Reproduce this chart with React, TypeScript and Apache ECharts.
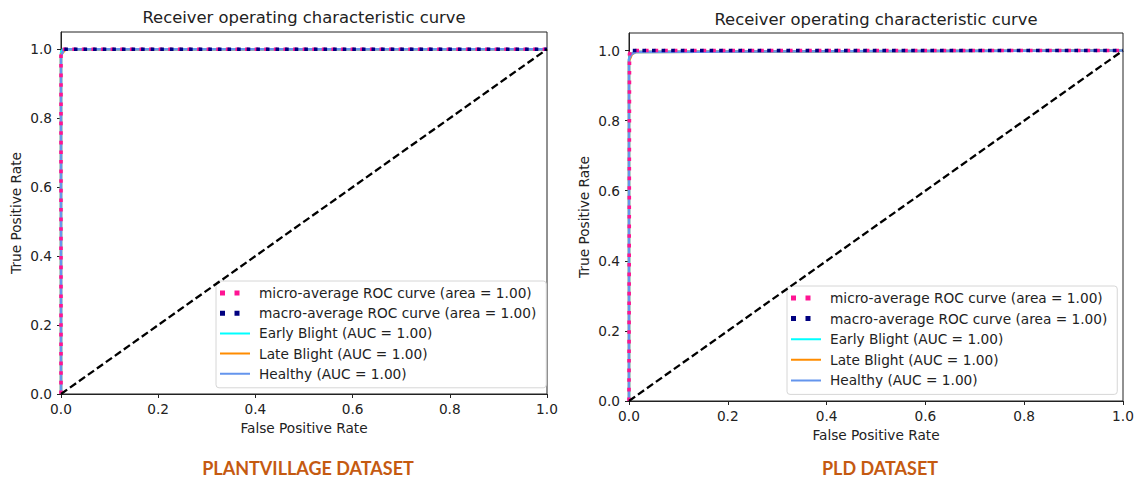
import React, { useEffect, useRef } from "react";
import * as echarts from "echarts";

// ---- data ----
const xTicks = [0, 0.2, 0.4, 0.6, 0.8, 1.0];
const yTicks = [0, 0.2, 0.4, 0.6, 0.8, 1.0];
const xMax = 1.0;
const yMax = 1.05;

const chartTitles = ["Receiver operating characteristic curve", "Receiver operating characteristic curve"];
const datasetLabels = ["PLANTVILLAGE DATASET", "PLD DATASET"];

const curveLabels = ["micro-average ROC curve", "macro-average ROC curve", "Early Blight", "Late Blight", "Healthy"];
const leftAreas = [1.0, 1.0, 1.0, 1.0, 1.0];
const rightAreas = [1.0, 1.0, 1.0, 1.0, 1.0];

// [false positive rate, true positive rate]
const leftMicro = [[0, 0], [0, 0.99], [0.002, 1.0], [1, 1.0]];
const leftMacro = [[0, 0.995], [0.001, 1.0], [1, 1.0]];
const leftEarly = [[0, 0], [0, 0.99], [0.004, 1.0], [1, 1.0]];
const leftLate = [[0, 0], [0, 0.985], [0.01, 1.0], [1, 1.0]];
const leftHealthy = [[0, 0], [0, 0.98], [0.006, 1.0], [1, 1.0]];

const rightMicro = [[0, 0], [0.001, 0.0], [0.001, 0.99], [0.004, 1.0], [1, 1.0]];
const rightMacro = [[0, 0.995], [0.003, 1.0], [1, 1.0]];
const rightEarly = [[0, 0], [0, 0.975], [0.004, 0.99], [0.012, 0.996], [1, 1.0]];
const rightLate = [[0, 0], [0, 0.97], [0.006, 0.99], [0.014, 0.996], [1, 1.0]];
const rightHealthy = [[0, 0], [0, 0.975], [0.005, 0.99], [0.014, 0.996], [1, 1.0]];

const chance = [[0, 0], [1, 1]];

const colors = ["#ff1493", "#000080", "#00ffff", "#ff8c00", "#6495ed"];

function names(areas: number[]) {
  return curveLabels.map((l, i) =>
    i < 2 ? `${l} (area = ${areas[i].toFixed(2)})` : `${l} (AUC = ${areas[i].toFixed(2)})`
  );
}

const dotIcon = "path://M0,0h5v5h-5zM14.5,0h5v5h-5zM34,0M34,5";
const lineIcon = "path://M0,1.5h30v2h-30zM0,0M34,5";

function buildSeries(g: number, curves: number[][][], nm: string[]) {
  const s: any[] = [];
  for (let i = 2; i < 5; i++) {
    s.push({
      type: "line",
      name: nm[i],
      xAxisIndex: g,
      yAxisIndex: g,
      data: curves[i],
      showSymbol: false,
      symbol: "none",
      color: colors[i],
      lineStyle: { color: colors[i], width: 2.5 },
      z: 2,
    });
  }
  for (let i = 0; i < 2; i++) {
    s.push({
      type: "line",
      name: nm[i],
      xAxisIndex: g,
      yAxisIndex: g,
      data: curves[i],
      showSymbol: false,
      symbol: "none",
      color: colors[i],
      lineStyle: {
        color: colors[i],
        width: 3.6,
        type: [3.6, 6],
        dashOffset: i === 0 ? 0 : 5,
        cap: "butt",
      },
      z: 3,
    });
  }
  s.push({
    type: "line",
    name: "chance",
    xAxisIndex: g,
    yAxisIndex: g,
    data: chance,
    showSymbol: false,
    symbol: "none",
    color: "#000",
    lineStyle: { color: "#000", width: 2.3, type: [7.5, 3.5] },
    z: 4,
  });
  return s;
}

const font = "DejaVu Sans";
const textColor = "#222";
const fs = 13.7;

function xAxis(g: number) {
  return {
    type: "value",
    gridIndex: g,
    min: 0,
    max: xMax,
    interval: 0.2,
    name: "False Positive Rate",
    nameLocation: "middle",
    nameGap: 27,
    nameTextStyle: { fontSize: fs, color: textColor, fontFamily: font },
    axisLine: { show: true, lineStyle: { color: "#222", width: 1 } },
    axisTick: { show: true, length: 4, inside: false, lineStyle: { color: "#222" }, customValues: xTicks },
    axisLabel: {
      fontSize: fs,
      color: textColor,
      fontFamily: font,
      margin: 8,
      customValues: xTicks,
      formatter: (v: number) => v.toFixed(1),
    },
    splitLine: { show: false },
  };
}

function yAxis(g: number) {
  return {
    type: "value",
    gridIndex: g,
    min: 0,
    max: yMax,
    interval: 0.2,
    name: "True Positive Rate",
    nameLocation: "middle",
    nameGap: 38,
    nameRotate: 90,
    nameTextStyle: { fontSize: fs, color: textColor, fontFamily: font },
    axisLine: { show: true, lineStyle: { color: "#222", width: 1 } },
    axisTick: { show: true, length: 4, inside: false, lineStyle: { color: "#222" }, customValues: yTicks },
    axisLabel: {
      fontSize: fs,
      color: textColor,
      fontFamily: font,
      margin: 9,
      customValues: yTicks,
      formatter: (v: number) => v.toFixed(1),
    },
    splitLine: { show: false },
  };
}

function legend(nm: string[], left: number, top: number, gap: number) {
  return {
    orient: "vertical",
    left,
    top,
    padding: [4, 10, 6, 4],
    itemWidth: 34,
    itemHeight: 5,
    itemGap: gap,
    backgroundColor: "rgba(255,255,255,0.8)",
    borderColor: "#d6d6d6",
    borderWidth: 1,
    borderRadius: 3,
    selectedMode: false,
    itemStyle: { borderWidth: 0 },
    textStyle: { fontSize: fs, color: textColor, fontFamily: font, lineHeight: 16 },
    data: nm.map((n, i) => ({ name: n, icon: i < 2 ? dotIcon : lineIcon })),
  };
}

export default function App() {
  const ref = useRef<HTMLDivElement>(null);
  useEffect(() => {
    if (!ref.current) return;
    const chart = echarts.init(ref.current, undefined, { renderer: "svg" });
    const ln = names(leftAreas);
    const rn = names(rightAreas);
    const option: any = {
      animation: false,
      backgroundColor: "#ffffff",
      title: [
        {
          text: chartTitles[0], left: 304, top: 17, padding: 0, textAlign: "center", textVerticalAlign: "middle",
          textStyle: { fontSize: 16.4, fontWeight: "normal", color: textColor, fontFamily: font },
        },
        {
          text: chartTitles[1], left: 876, top: 19, padding: 0, textAlign: "center", textVerticalAlign: "middle",
          textStyle: { fontSize: 16.4, fontWeight: "normal", color: textColor, fontFamily: font },
        },
        {
          text: datasetLabels[0], left: 308, top: 468, padding: 0, textAlign: "center", textVerticalAlign: "middle",
          textStyle: { fontSize: 18, fontWeight: "bold", color: "#c55a11", fontFamily: "Lato" },
        },
        {
          text: datasetLabels[1], left: 880, top: 468, padding: 0, textAlign: "center", textVerticalAlign: "middle",
          textStyle: { fontSize: 18, fontWeight: "bold", color: "#c55a11", fontFamily: "Lato" },
        },
      ],
      grid: [
        { left: 61, top: 32, width: 486, height: 362, show: true, borderColor: "#222", borderWidth: 1, backgroundColor: "transparent" },
        { left: 629, top: 33, width: 494, height: 368, show: true, borderColor: "#222", borderWidth: 1, backgroundColor: "transparent" },
      ],
      xAxis: [xAxis(0), xAxis(1)],
      yAxis: [yAxis(0), yAxis(1)],
      legend: [legend(ln, 216, 281, 4.2), legend(rn, 787, 286, 4.6)],
      series: [
        ...buildSeries(0, [leftMicro, leftMacro, leftEarly, leftLate, leftHealthy], ln),
        ...buildSeries(1, [rightMicro, rightMacro, rightEarly, rightLate, rightHealthy], rn),
      ],
    };
    chart.setOption(option);
    return () => chart.dispose();
  }, []);
  return (
    <div
      ref={ref}
      style={{ position: "absolute", left: 0, top: 0, width: 1138, height: 483, background: "#fff" }}
    />
  );
}
